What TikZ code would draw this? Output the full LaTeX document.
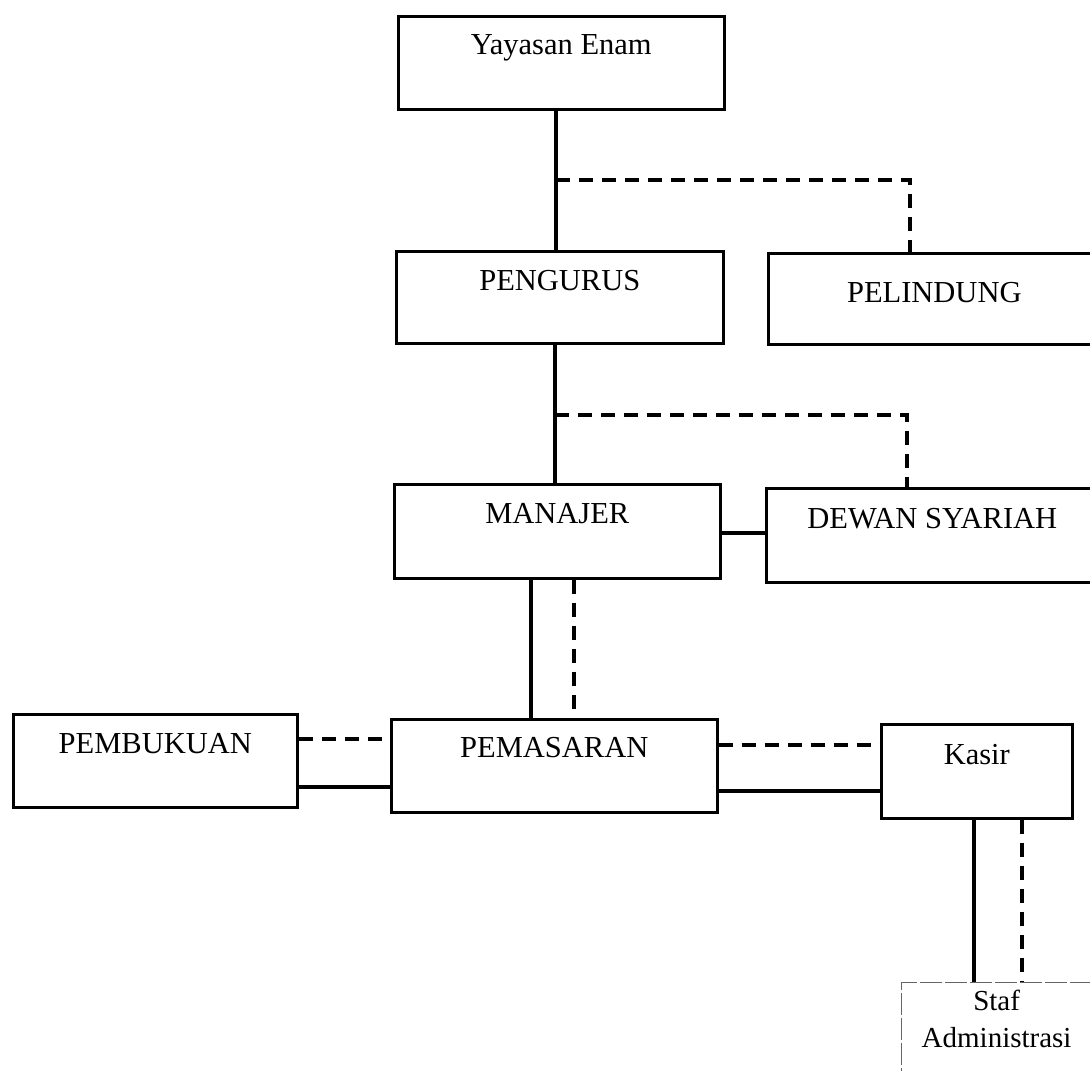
\documentclass[tikz,border=0pt]{standalone}
\usepackage{fontspec}
\setmainfont{Liberation Serif}
\begin{document}
\begin{tikzpicture}[x=1pt,y=-1pt,
  box/.style={draw, line width=2.6pt, inner sep=0pt, anchor=north west},
  stafbox/.style={draw=black!60, line width=1.2pt, dash pattern=on 22pt off 3pt, inner sep=0pt, anchor=north west},
  lbl/.style={anchor=base, inner sep=0pt, font=\fontsize{30.5}{36}\selectfont},
  conn/.style={line width=3.6pt},
  dconn/.style={line width=3.6pt, dash pattern=on 14pt off 9pt},
]
\useasboundingbox (0,0) rectangle (1090,1071);
\clip (0,0) rectangle (1090,1071);
\fill[white] (0,0) rectangle (1090,1071);

% boxes
\node[box, minimum width=326pt, minimum height=93pt] (yay) at (397,15) {};
\node[lbl] (yayt) at ([yshift=-39pt]yay.north) {Yayasan Enam};

\node[box, minimum width=327pt, minimum height=92pt] (peng) at (395,250) {};
\node[lbl] (pengt) at ([yshift=-40pt]peng.north) {PENGURUS};

\node[box, minimum width=332pt, minimum height=91pt] (pel) at (767,252) {};
\node[lbl] (pelt) at ([yshift=-50pt]pel.north) {PELINDUNG};

\node[box, minimum width=326pt, minimum height=94pt] (man) at (393,483) {};
\node[lbl] (mant) at ([yshift=-40pt]man.north) {MANAJER};

\node[box, minimum width=332pt, minimum height=94pt] (dew) at (765,487) {};
\node[lbl] (dewt) at ([yshift=-41pt]dew.north) {DEWAN SYARIAH};

\node[box, minimum width=284pt, minimum height=93pt] (pemb) at (12,713) {};
\node[lbl] (pembt) at ([yshift=-40pt]pemb.north) {PEMBUKUAN};

\node[box, minimum width=326pt, minimum height=93pt] (pem) at (390,718) {};
\node[lbl] (pemt) at ([yshift=-39pt]pem.north) {PEMASARAN};

\node[box, minimum width=191pt, minimum height=94pt] (kas) at (880,723) {};
\node[lbl] (kast) at ([yshift=-41pt]kas.north) {Kasir};

\node[stafbox, minimum width=190pt, minimum height=110pt] (staf) at (901,982) {};
\node[lbl, font=\fontsize{29}{36}\selectfont] (stafa) at ([yshift=-28pt]staf.north) {Staf};
\node[lbl, font=\fontsize{29}{36}\selectfont] (stafb) at ([yshift=-65pt]staf.north) {Administrasi};

% helper coordinates
\coordinate (j1) at (556,180);
\coordinate (p1) at (910,180);
\coordinate (j2) at (555,415);
\coordinate (p2) at (907,415);
\coordinate (hm) at (0,533);
\coordinate (vs) at (531,0);
\coordinate (vd) at (574,0);
\coordinate (hl1) at (0,739);
\coordinate (hl2) at (0,787);
\coordinate (hr1) at (0,745);
\coordinate (hr2) at (0,791);
\coordinate (ks) at (974,0);
\coordinate (kd) at (1022,0);

% connectors
\draw[conn] (yay.south -| j1) -- (peng.north -| j1);
\draw[dconn] (j1) -- (p1) -- (p1 |- pel.north);

\draw[conn] (peng.south -| j2) -- (man.north -| j2);
\draw[dconn] (j2) -- (p2) -- (p2 |- dew.north);

\draw[conn] (man.east |- hm) -- (dew.west |- hm);

\draw[conn] (man.south -| vs) -- (pem.north -| vs);
\draw[dconn] (man.south -| vd) -- (pem.north -| vd);

\draw[dconn] (pemb.east |- hl1) -- (pem.west |- hl1);
\draw[conn] (pemb.east |- hl2) -- (pem.west |- hl2);

\draw[dconn] (pem.east |- hr1) -- (kas.west |- hr1);
\draw[conn] (pem.east |- hr2) -- (kas.west |- hr2);

\draw[conn] (kas.south -| ks) -- (staf.north -| ks);
\draw[dconn] (kas.south -| kd) -- (staf.north -| kd);
\end{tikzpicture}
\end{document}
